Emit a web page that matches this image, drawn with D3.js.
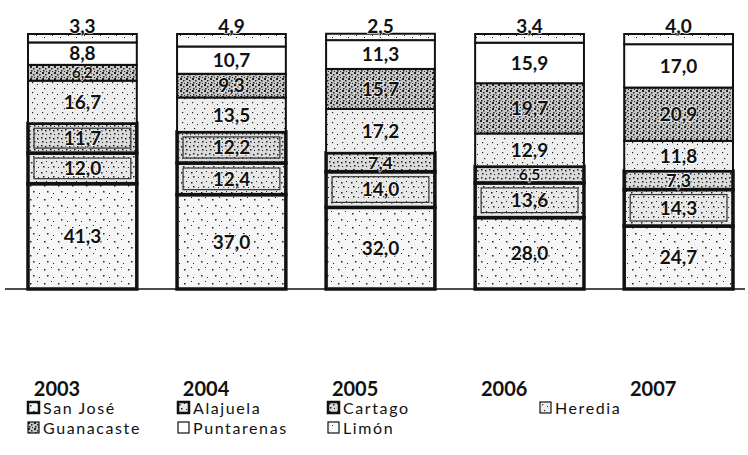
<!DOCTYPE html>
<html>
<head>
<meta charset="utf-8">
<script src="https://cdn.jsdelivr.net/npm/d3@7"></script>
<style>
  body { margin: 0; background: #fff; }
  svg { display: block; font-family: Lato, "Open Sans", sans-serif; }
  .val { font-weight: bold; fill: #111; text-anchor: middle;
         paint-order: stroke; stroke: #fff; stroke-width: 2px; stroke-opacity: 0.7; }
  .year { font-weight: bold; font-size: 20px; fill: #111; text-anchor: middle; }
  .leg { font-size: 16px; fill: #111; letter-spacing: 1.6px; }
</style>
</head>
<body>
<div id="chart"></div>
<script>
// categories (years) and provinces, bottom to top of each stack
var years = ["2003", "2004", "2005", "2006", "2007"];
var provinces = ["San José", "Alajuela", "Cartago", "Heredia", "Guanacaste", "Puntarenas", "Limón"];

// share of each province, per year (%)
var sanJose    = [41.3, 37.0, 32.0, 28.0, 24.7];
var alajuela   = [12.0, 12.4, 14.0, 13.6, 14.3];
var cartago    = [11.7, 12.2,  7.4,  6.5,  7.3];
var heredia    = [16.7, 13.5, 17.2, 12.9, 11.8];
var guanacaste = [ 6.2,  9.3, 15.7, 19.7, 20.9];
var puntarenas = [ 8.8, 10.7, 11.3, 15.9, 17.0];
var limon      = [ 3.3,  4.9,  2.5,  3.4,  4.0];

var series = [sanJose, alajuela, cartago, heredia, guanacaste, puntarenas, limon];

var width = 748, height = 455;

var svg = d3.select("#chart").append("svg")
    .attr("width", width)
    .attr("height", height);

//scanned-looking fills, one pattern per province
var defs = svg.append("defs");
function dotPattern(id, size, dots, bg) {
    var p = defs.append("pattern")
        .attr("id", id)
        .attr("patternUnits", "userSpaceOnUse")
        .attr("width", size).attr("height", size);
    p.append("rect").attr("width", size).attr("height", size).attr("fill", bg);
    dots.forEach(function(d){
        p.append("rect").attr("x", d[0]).attr("y", d[1])
            .attr("width", d[2]).attr("height", d[2]).attr("fill", "#222");
    });
}
dotPattern("p0", 14, [[2,3,1.5],[9,1,1],[5,9,1.5],[11,11,1]], "#f6f6f6");
dotPattern("p1", 10, [[1,2,1.5],[6,1,1],[3,6,1.5],[8,7,1]], "#e8e8e8");
dotPattern("p2", 8, [[1,1,1.5],[5,2,1.5],[2,5,1.5],[6,6,1]], "#dadada");
dotPattern("p3", 10, [[2,2,1.2],[7,4,1],[4,8,1.2]], "#eeeeee");
dotPattern("p4", 6, [[0,0,2],[3,2,1.5],[1,4,1.5],[4,5,1]], "#c8c8c8");
dotPattern("p5", 20, [], "#ffffff");
dotPattern("p6", 16, [[4,3,1],[12,5,1]], "#fbfbfb");

var x = d3.scaleBand()
    .domain(years)
    .range([28, 733])
    .paddingInner(0.27)
    .paddingOuter(0);

var y = d3.scaleLinear()
    .domain([0, 100])
    .range([289, 34]);

var stackData = years.map(function(yr, i){
    var row = {year: yr};
    provinces.forEach(function(p, k){ row[p] = series[k][i]; });
    return row;
});

var stack = d3.stack().keys(provinces)(stackData);

//baseline
svg.append("line")
    .attr("x1", 5).attr("x2", 745)
    .attr("y1", y(0)).attr("y2", y(0))
    .style("stroke", "#111").style("stroke-width", 1.5);

var layer = svg.selectAll("g.layer")
    .data(stack)
    .enter().append("g")
    .attr("class", "layer")
    .attr("fill", function(d, i){ return "url(#p" + i + ")"; });

layer.selectAll("rect")
    .data(function(d){ return d; })
    .enter().append("rect")
    .attr("x", function(d){ return x(d.data.year); })
    .attr("y", function(d){ return y(d[1]); })
    .attr("width", x.bandwidth())
    .attr("height", function(d){ return y(d[0]) - y(d[1]); })
    .style("stroke", "#111")
    .style("stroke-width", function(d){
        var k = this.parentNode.__data__.index;
        return (k <= 2) ? 3.5 : 2;
    });

//inner frame for the taller Alajuela and Cartago boxes, like in the scan
var framed = stack[1].concat(stack[2]).filter(function(d){
    return y(d[0]) - y(d[1]) > 24;
});
svg.selectAll("rect.frame")
    .data(framed)
    .enter().append("rect")
    .attr("class", "frame")
    .attr("x", function(d){ return x(d.data.year) + 6; })
    .attr("y", function(d){ return y(d[1]) + 5; })
    .attr("width", x.bandwidth() - 12)
    .attr("height", function(d){ return y(d[0]) - y(d[1]) - 10; })
    .style("fill", "none")
    .style("stroke", "#333")
    .style("stroke-width", 1.2);

//value labels, shrunk a bit in the thin segments
function labelSize(d, k) {
    if (k == provinces.length - 1) return 19;
    return Math.min(19, y(d[0]) - y(d[1]) - 1);
}
stack.forEach(function(s, k){
    svg.selectAll("text.v" + k)
        .data(s)
        .enter().append("text")
        .attr("class", "val v" + k)
        .style("font-size", function(d){ return labelSize(d, k) + "px"; })
        .attr("x", function(d){ return x(d.data.year) + x.bandwidth() / 2; })
        .attr("y", function(d){
            if (k == provinces.length - 1) return y(d[1]) - 1;
            return (y(d[0]) + y(d[1])) / 2 + labelSize(d, k) * 0.36;
        })
        .text(function(d){ return (d[1] - d[0]).toFixed(1).replace(".", ","); });
});

//year labels
svg.selectAll("text.year")
    .data(years)
    .enter().append("text")
    .attr("class", "year")
    .attr("x", function(d){ return x(d) + 29; })
    .attr("y", 396)
    .text(function(d){ return d; });

//legend
var legX = [28, 178, 328, 540];
var legend = svg.selectAll("g.legend")
    .data(provinces)
    .enter().append("g")
    .attr("class", "legend")
    .attr("transform", function(d, i){
        return "translate(" + legX[i % 4] + "," + (402 + Math.floor(i / 4) * 20) + ")";
    });

legend.append("rect")
    .attr("width", 11).attr("height", 11)
    .attr("fill", function(d, i){ return "url(#p" + i + ")"; })
    .style("stroke", "#111")
    .style("stroke-width", function(d, i){ return i < 3 ? 2.5 : 1.2; });

legend.append("text")
    .attr("class", "leg")
    .attr("x", 15)
    .attr("y", 12)
    .text(function(d){ return d; });
</script>
</body>
</html>
